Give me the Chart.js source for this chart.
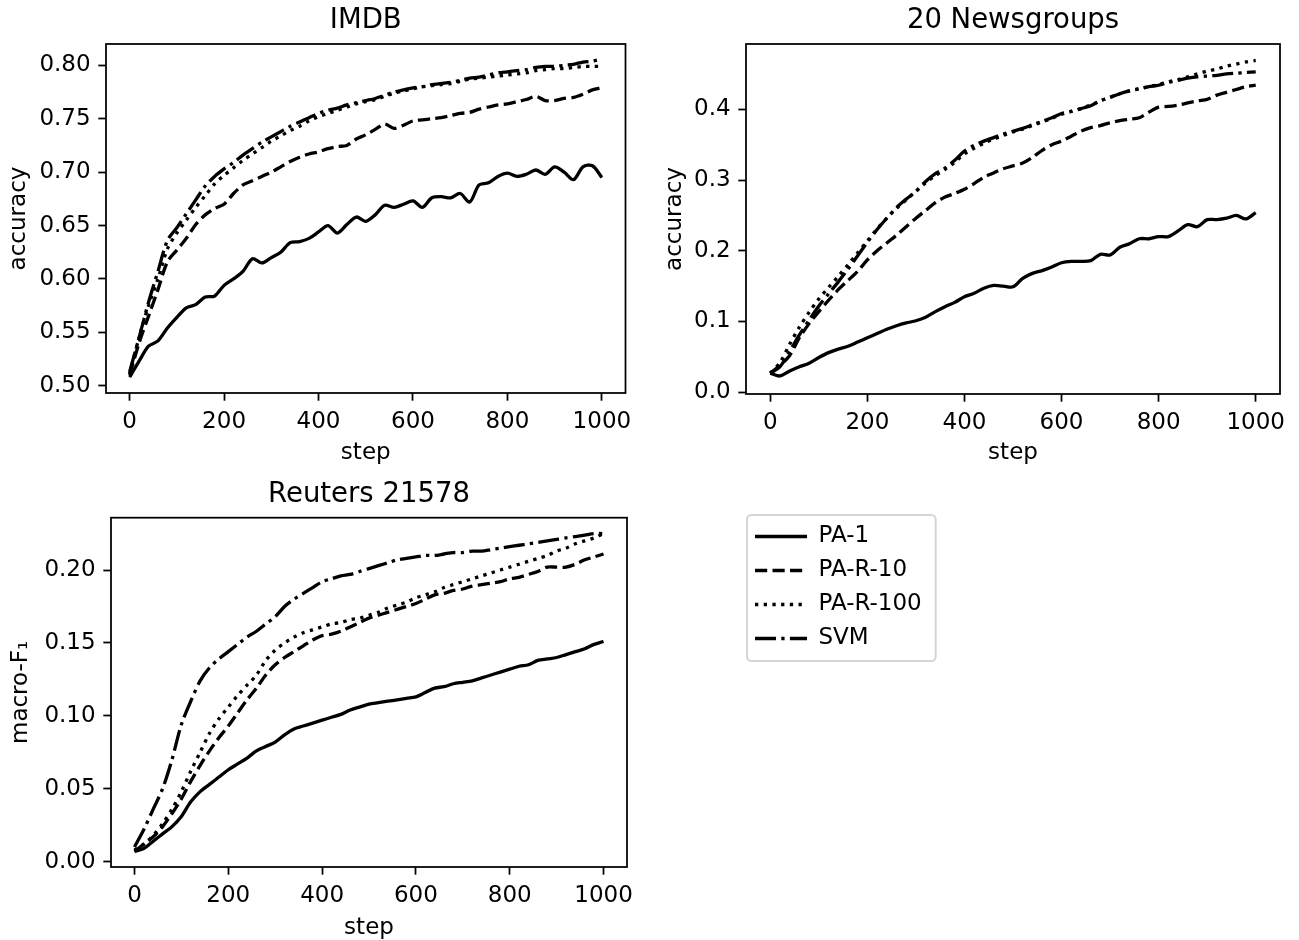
<!DOCTYPE html>
<html>
<head>
<meta charset="utf-8">
<script src="https://cdn.jsdelivr.net/npm/chart.js@4.4.0/dist/chart.umd.min.js"></script>
<style>
  body { margin: 0; background: #fff; width: 1299px; height: 940px; position: relative; overflow: hidden; }
  canvas { position: absolute; }
</style>
</head>
<body>
<canvas id="imdb" width="650" height="470" style="left:0px;top:0px"></canvas>
<canvas id="news" width="649" height="470" style="left:650px;top:0px"></canvas>
<canvas id="reuters" width="650" height="470" style="left:0px;top:470px"></canvas>
<canvas id="legendBox" width="400" height="148" style="left:744px;top:514px"></canvas>
<script>
// ---- data ----
const seriesNames = ['PA-1', 'PA-R-10', 'PA-R-100', 'SVM'];

const steps = [0, 20, 40, 60, 80, 100, 120, 140, 160, 180, 200, 220, 240, 260, 280, 300, 320, 340, 360, 380,
  400, 420, 440, 460, 480, 500, 520, 540, 560, 580, 600, 620, 640, 660, 680, 700, 720, 740, 760, 780,
  800, 820, 840, 860, 880, 900, 920, 940, 960, 980, 1000];

const imdbPA1 = [0.508, 0.523, 0.537, 0.542, 0.554, 0.564, 0.573, 0.576, 0.583, 0.584, 0.594, 0.600, 0.607, 0.619, 0.615, 0.620, 0.625, 0.634, 0.635, 0.638,
  0.644, 0.650, 0.643, 0.651, 0.658, 0.654, 0.660, 0.669, 0.667, 0.670, 0.673, 0.667, 0.676, 0.677, 0.676, 0.680, 0.672, 0.688, 0.690, 0.696,
  0.699, 0.696, 0.698, 0.702, 0.698, 0.705, 0.700, 0.693, 0.705, 0.706, 0.695];
const imdbPAR10 = [0.510, 0.540, 0.565, 0.590, 0.616, 0.627, 0.638, 0.651, 0.660, 0.666, 0.670, 0.680, 0.688, 0.692, 0.696, 0.700, 0.705, 0.710, 0.714, 0.717,
  0.719, 0.722, 0.724, 0.725, 0.731, 0.735, 0.740, 0.745, 0.741, 0.744, 0.748, 0.749, 0.750, 0.751, 0.753, 0.755, 0.756, 0.759, 0.761, 0.763,
  0.764, 0.766, 0.768, 0.771, 0.767, 0.767, 0.769, 0.770, 0.773, 0.777, 0.779];
const imdbPAR100 = [0.511, 0.545, 0.575, 0.600, 0.628, 0.643, 0.655, 0.667, 0.678, 0.689, 0.697, 0.704, 0.711, 0.717, 0.723, 0.729, 0.734, 0.739, 0.743, 0.748,
  0.752, 0.755, 0.758, 0.761, 0.764, 0.766, 0.768, 0.771, 0.774, 0.776, 0.778, 0.780, 0.781, 0.782, 0.783, 0.785, 0.787, 0.788, 0.789, 0.790,
  0.791, 0.792, 0.793, 0.795, 0.796, 0.797, 0.797, 0.798, 0.799, 0.799, 0.799];
const imdbSVM = [0.513, 0.545, 0.578, 0.607, 0.636, 0.648, 0.661, 0.674, 0.687, 0.696, 0.703, 0.709, 0.716, 0.722, 0.728, 0.733, 0.738, 0.743, 0.747, 0.751,
  0.755, 0.758, 0.760, 0.763, 0.765, 0.767, 0.769, 0.772, 0.775, 0.777, 0.779, 0.780, 0.782, 0.783, 0.784, 0.786, 0.788, 0.789, 0.791, 0.793,
  0.794, 0.795, 0.796, 0.798, 0.799, 0.799, 0.800, 0.801, 0.803, 0.804, 0.806];

const newsPA1 = [0.027, 0.023, 0.030, 0.036, 0.041, 0.049, 0.056, 0.061, 0.065, 0.071, 0.077, 0.083, 0.089, 0.094, 0.098, 0.101, 0.106, 0.114, 0.121, 0.127,
  0.135, 0.140, 0.147, 0.151, 0.150, 0.149, 0.161, 0.168, 0.172, 0.177, 0.183, 0.185, 0.185, 0.186, 0.195, 0.194, 0.205, 0.210, 0.217, 0.217,
  0.220, 0.220, 0.228, 0.237, 0.234, 0.244, 0.244, 0.246, 0.250, 0.245, 0.254];
const newsPAR10 = [0.027, 0.038, 0.052, 0.077, 0.097, 0.114, 0.130, 0.145, 0.158, 0.171, 0.187, 0.200, 0.211, 0.222, 0.234, 0.246, 0.257, 0.268, 0.276, 0.281,
  0.287, 0.295, 0.304, 0.310, 0.316, 0.320, 0.324, 0.332, 0.342, 0.350, 0.355, 0.362, 0.369, 0.374, 0.377, 0.381, 0.384, 0.386, 0.388, 0.396,
  0.403, 0.404, 0.406, 0.409, 0.412, 0.414, 0.420, 0.424, 0.428, 0.432, 0.434];
const newsPAR100 = [0.027, 0.042, 0.068, 0.092, 0.113, 0.132, 0.148, 0.164, 0.180, 0.197, 0.214, 0.231, 0.246, 0.260, 0.272, 0.284, 0.296, 0.306, 0.315, 0.325,
  0.337, 0.345, 0.352, 0.358, 0.363, 0.368, 0.372, 0.377, 0.382, 0.387, 0.393, 0.397, 0.401, 0.406, 0.412, 0.417, 0.422, 0.426, 0.429, 0.432,
  0.435, 0.439, 0.442, 0.446, 0.450, 0.454, 0.457, 0.461, 0.464, 0.467, 0.469];
const newsSVM = [0.027, 0.036, 0.058, 0.081, 0.102, 0.122, 0.139, 0.156, 0.174, 0.193, 0.212, 0.230, 0.246, 0.261, 0.273, 0.284, 0.298, 0.309, 0.317, 0.328,
  0.341, 0.349, 0.355, 0.360, 0.365, 0.369, 0.373, 0.378, 0.383, 0.388, 0.394, 0.397, 0.401, 0.405, 0.412, 0.417, 0.422, 0.426, 0.429, 0.432,
  0.434, 0.438, 0.441, 0.444, 0.446, 0.447, 0.448, 0.450, 0.451, 0.452, 0.453];

const reutersPA1 = [0.007, 0.009, 0.014, 0.019, 0.024, 0.031, 0.041, 0.048, 0.053, 0.058, 0.063, 0.067, 0.071, 0.076, 0.079, 0.082, 0.087, 0.091, 0.093, 0.095,
  0.097, 0.099, 0.101, 0.104, 0.106, 0.108, 0.109, 0.110, 0.111, 0.112, 0.113, 0.116, 0.119, 0.120, 0.122, 0.123, 0.124, 0.126, 0.128, 0.130,
  0.132, 0.134, 0.135, 0.138, 0.139, 0.140, 0.142, 0.144, 0.146, 0.149, 0.151];
const reutersPAR10 = [0.007, 0.012, 0.017, 0.024, 0.033, 0.043, 0.055, 0.066, 0.076, 0.085, 0.093, 0.102, 0.111, 0.119, 0.128, 0.135, 0.140, 0.144, 0.148, 0.152,
  0.155, 0.156, 0.158, 0.161, 0.164, 0.167, 0.169, 0.171, 0.173, 0.175, 0.177, 0.180, 0.183, 0.184, 0.186, 0.187, 0.189, 0.190, 0.191, 0.192,
  0.194, 0.195, 0.197, 0.199, 0.202, 0.202, 0.202, 0.204, 0.207, 0.209, 0.211];
const reutersPAR100 = [0.008, 0.012, 0.018, 0.026, 0.036, 0.048, 0.062, 0.075, 0.088, 0.098, 0.106, 0.114, 0.121, 0.128, 0.138, 0.145, 0.150, 0.154, 0.157, 0.159,
  0.161, 0.163, 0.164, 0.166, 0.167, 0.169, 0.171, 0.174, 0.176, 0.178, 0.181, 0.183, 0.185, 0.188, 0.190, 0.192, 0.194, 0.196, 0.198, 0.200,
  0.202, 0.204, 0.206, 0.208, 0.210, 0.213, 0.215, 0.218, 0.220, 0.222, 0.225];
const reutersSVM = [0.010, 0.022, 0.036, 0.050, 0.070, 0.094, 0.110, 0.124, 0.133, 0.139, 0.144, 0.149, 0.154, 0.158, 0.163, 0.168, 0.175, 0.180, 0.184, 0.188,
  0.192, 0.194, 0.196, 0.197, 0.199, 0.201, 0.203, 0.205, 0.207, 0.208, 0.209, 0.210, 0.210, 0.211, 0.212, 0.212, 0.213, 0.213, 0.214, 0.215,
  0.216, 0.217, 0.218, 0.219, 0.220, 0.221, 0.222, 0.223, 0.224, 0.225, 0.225];

const xTicks = [0, 200, 400, 600, 800, 1000];
const xTickLabels = ['0', '200', '400', '600', '800', '1000'];
const imdbYTicks = [0.50, 0.55, 0.60, 0.65, 0.70, 0.75, 0.80];
const imdbYTickLabels = ['0.50', '0.55', '0.60', '0.65', '0.70', '0.75', '0.80'];
const newsYTicks = [0.0, 0.1, 0.2, 0.3, 0.4];
const newsYTickLabels = ['0.0', '0.1', '0.2', '0.3', '0.4'];
const reutersYTicks = [0.00, 0.05, 0.10, 0.15, 0.20];
const reutersYTickLabels = ['0.00', '0.05', '0.10', '0.15', '0.20'];

// ---- styles ----
Chart.defaults.font.family = "'DejaVu Sans', sans-serif";
Chart.defaults.color = '#000';

const dashes = [[], [12.2, 5.3], [3.3, 5.4], [21, 5.3, 3.3, 5.3]];
const LW = 3.3;
const FS = 23;

// box around the plotting area (all four spines)
const spines = {
  id: 'spines',
  afterDatasetsDraw(chart) {
    const { ctx, chartArea: a } = chart;
    ctx.save();
    ctx.strokeStyle = '#000';
    ctx.lineWidth = 1.76;
    ctx.strokeRect(a.left, a.top, a.right - a.left, a.bottom - a.top);
    ctx.restore();
  }
};

function makePanel(id, title, yLabel, series, yMin, yMax, yTicks, yTickLabels, g) {
  const datasets = series.map((vals, i) => ({
    label: seriesNames[i],
    data: steps.map((s, k) => ({ x: s, y: vals[k] })),
    borderColor: '#000',
    borderWidth: LW,
    borderDash: dashes[i],
    pointRadius: 0,
    tension: 0.3,
    fill: false
  }));

  return new Chart(document.getElementById(id), {
    type: 'line',
    data: { datasets },
    plugins: [spines],
    options: {
      responsive: false,
      animation: false,
      events: [],
      layout: { padding: { left: 0, right: g.padRight, top: 0, bottom: 0 } },
      plugins: {
        legend: { display: false },
        tooltip: { enabled: false },
        title: {
          display: true, text: title, color: '#000', fullSize: false,
          font: { size: 27.5, weight: 'normal' },
          padding: { top: g.tTop, bottom: g.tBottom }
        }
      },
      scales: {
        x: {
          type: 'linear', min: -50, max: 1050,
          afterBuildTicks: s => { s.ticks = xTicks.map(v => ({ value: v })); },
          afterFit: s => { s.height = g.xHeight; },
          ticks: { color: '#000', font: { size: FS }, padding: 7.7, maxRotation: 0, autoSkip: false,
                   callback: (v, i) => xTickLabels[i] },
          grid: { drawOnChartArea: false, drawTicks: true, tickLength: 7.7, tickWidth: 1.76, tickColor: '#000' },
          border: { display: false },
          title: { display: true, text: 'step', color: '#000', font: { size: FS, lineHeight: 1 },
                   padding: { top: 0, bottom: g.xtPad } }
        },
        y: {
          type: 'linear', min: yMin, max: yMax,
          afterBuildTicks: s => { s.ticks = yTicks.map(v => ({ value: v })); },
          afterFit: s => { s.width = g.yWidth; },
          ticks: { color: '#000', font: { size: FS }, padding: 7.7, autoSkip: false,
                   callback: (v, i) => yTickLabels[i] },
          grid: { drawOnChartArea: false, drawTicks: true, tickLength: 7.7, tickWidth: 1.76, tickColor: '#000' },
          border: { display: false },
          title: { display: true, text: yLabel, color: '#000', font: { size: FS, lineHeight: 1 },
                   padding: { top: g.ytPad, bottom: 0 } }
        }
      }
    }
  });
}

makePanel('imdb', 'IMDB', 'accuracy',
  [imdbPA1, imdbPAR10, imdbPAR100, imdbSVM], 0.4932, 0.8200, imdbYTicks, imdbYTickLabels,
  { padRight: 24.5, yWidth: 106, xHeight: 77, tTop: 4.1, tBottom: 6.9, xtPad: 5.1, ytPad: 7.4 });

makePanel('news', '20 Newsgroups', 'accuracy',
  [newsPA1, newsPAR10, newsPAR100, newsSVM], -0.0025, 0.4923, newsYTicks, newsYTickLabels,
  { padRight: 19, yWidth: 96, xHeight: 76, tTop: 4.1, tBottom: 6.9, xtPad: 5.1, ytPad: 13.5 });

makePanel('reuters', 'Reuters 21578', 'macro-F\u2081',
  [reutersPA1, reutersPAR10, reutersPAR100, reutersSVM], -0.0037, 0.2359, reutersYTicks, reutersYTickLabels,
  { padRight: 23, yWidth: 111, xHeight: 73, tTop: 8, tBottom: 6.7, xtPad: 0.1, ytPad: 9.6 });

// ---- legend (own small chart, only the legend is shown) ----
const legendFrame = {
  id: 'legendFrame',
  beforeDraw(chart) {
    const l = chart.legend;
    if (!l || !l.legendHitBoxes) return;
    const right = Math.max(...l.legendHitBoxes.map(h => h.left + h.width)) + 14;
    const x = l.left + 3, y = l.top + 1, w = right - x, h = l.height - 2;
    const { ctx } = chart;
    ctx.save();
    ctx.beginPath();
    ctx.roundRect(x, y, w, h, 4.4);
    ctx.fillStyle = '#fff';
    ctx.fill();
    ctx.strokeStyle = '#d5d5d5';
    ctx.lineWidth = 2;
    ctx.stroke();
    ctx.restore();
  }
};

new Chart(document.getElementById('legendBox'), {
  type: 'line',
  data: {
    datasets: seriesNames.map((n, i) => ({ label: n, data: [], borderColor: '#000', borderWidth: LW, borderDash: dashes[i] }))
  },
  plugins: [legendFrame],
  options: {
    responsive: false,
    animation: false,
    events: [],
    layout: { padding: 0 },
    scales: { x: { display: false }, y: { display: false } },
    plugins: {
      tooltip: { enabled: false },
      legend: {
        display: true,
        position: 'left',
        align: 'start',
        labels: {
          color: '#000',
          font: { size: FS },
          padding: 11,
          usePointStyle: true,
          pointStyle: 'line',
          pointStyleWidth: 52,
          generateLabels: chart => chart.data.datasets.map((ds, i) => ({
            text: ds.label,
            fontColor: '#000',
            strokeStyle: '#000',
            fillStyle: '#000',
            lineWidth: LW,
            lineDash: ds.borderDash,
            lineCap: 'butt',
            pointStyle: 'line',
            hidden: false,
            datasetIndex: i
          }))
        }
      }
    }
  }
});
</script>
</body>
</html>
